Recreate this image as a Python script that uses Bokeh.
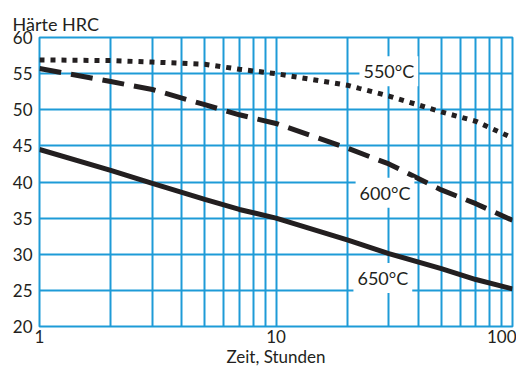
from bokeh.plotting import figure
from bokeh.models import FixedTicker, Label
from bokeh.embed import file_html
from bokeh.resources import INLINE

# ---- data ----
hours = [1, 2, 3, 5, 7, 10, 20, 30, 50, 70, 100]
hrc_550 = [56.9, 56.8, 56.6, 56.3, 55.6, 55.0, 53.4, 51.9, 49.7, 48.4, 46.1]
hrc_600 = [55.7, 53.9, 52.8, 50.7, 49.3, 48.1, 44.7, 42.5, 38.9, 37.0, 34.7]
hrc_650 = [44.5, 41.6, 39.8, 37.6, 36.2, 35.0, 32.0, 30.1, 28.0, 26.5, 25.2]
series_names = ["550°C", "600°C", "650°C"]
x_ticks = [1, 10, 100]
x_tick_labels = ["1", "10", "100"]
x_grid_ticks = [1, 2, 3, 4, 5, 6, 7, 8, 9, 10, 20, 30, 40, 50, 60, 70, 80, 90, 100]
y_ticks = [20, 25, 30, 35, 40, 45, 50, 55, 60]
y_title = "Härte HRC"
x_title = "Zeit, Stunden"

# ---- style ----
BLUE = "#1e9bd7"
INK = "#231f20"
FONT = "Lato"

p = figure(width=516, height=369, x_axis_type="log", x_range=(1, 100), y_range=(20, 60),
           output_backend="svg", toolbar_location=None, title=y_title,
           min_border_left=39, min_border_right=4, min_border_top=37, min_border_bottom=40)
p.title.align = "left"
p.title.offset = -27
p.title.standoff = 5
p.title.text_font = FONT
p.title.text_font_size = "18px"
p.title.text_font_style = "normal"
p.title.text_color = INK

p.background_fill_color = "white"
p.border_fill_color = "white"
p.outline_line_color = BLUE
p.outline_line_width = 2

p.xgrid.ticker = FixedTicker(ticks=x_grid_ticks)
p.ygrid.ticker = FixedTicker(ticks=y_ticks)
for g in (p.xgrid, p.ygrid):
    g.grid_line_color = BLUE
    g.grid_line_width = 2

xa = p.xaxis[0]
ya = p.yaxis[0]
xa.ticker = FixedTicker(ticks=x_ticks)
xa.major_label_overrides = {t: s for t, s in zip(x_ticks, x_tick_labels)}
ya.ticker = FixedTicker(ticks=y_ticks)
xa.axis_label = x_title
for ax in (xa, ya):
    ax.axis_line_color = None
    ax.major_tick_line_color = None
    ax.minor_tick_line_color = None
    ax.major_tick_out = 0
    ax.major_tick_in = 0
    ax.major_label_text_font = FONT
    ax.major_label_text_font_size = "17px"
    ax.major_label_text_color = INK
    ax.axis_label_text_font = FONT
    ax.axis_label_text_font_size = "17px"
    ax.axis_label_text_font_style = "normal"
    ax.axis_label_text_color = INK
ya.major_label_standoff = 7
xa.major_label_standoff = 3
xa.axis_label_standoff = 0

p.line(hours, hrc_550, line_color=INK, line_width=5, line_dash="5 6")
p.line(hours, hrc_600, line_color=INK, line_width=5, line_dash="22 10")
p.line(hours, hrc_650, line_color=INK, line_width=5)

label_pos = [(30.0, 55.33), (28.9, 38.5), (28.3, 26.7)]
for name, (lx, ly) in zip(series_names, label_pos):
    p.add_layout(Label(x=lx, y=ly, text=name, text_align="center", text_baseline="middle",
                       text_font=FONT, text_font_size="18px", text_color=INK,
                       background_fill_color="white", padding=4))

open("out.html", "w").write(file_html(p, INLINE))
